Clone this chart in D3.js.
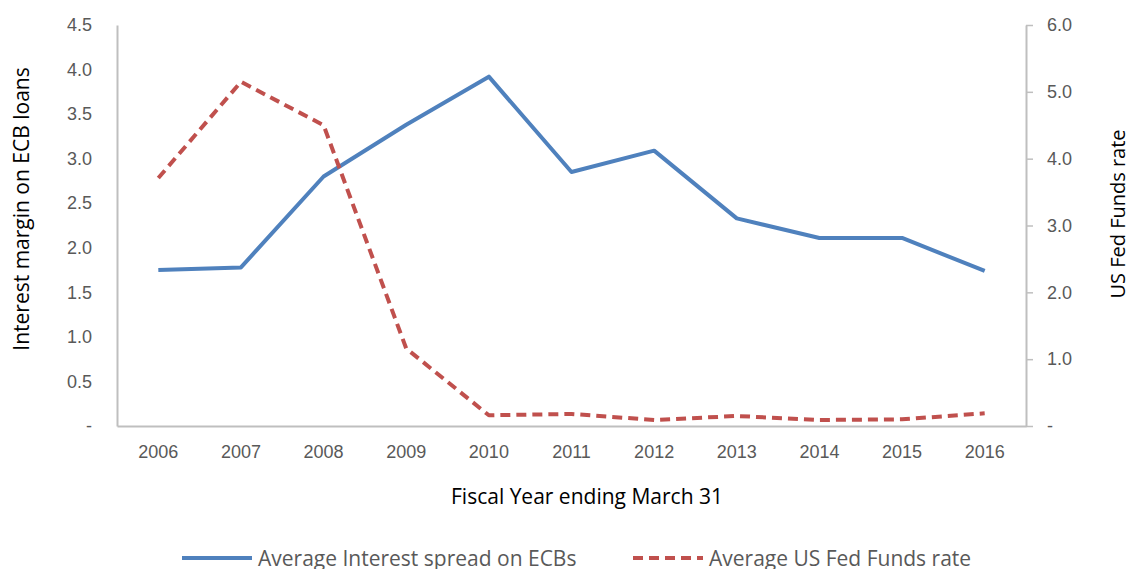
<!DOCTYPE html>
<html>
<head>
<meta charset="utf-8">
<script src="https://cdn.jsdelivr.net/npm/d3@7"></script>
<style>
  body { margin: 0; background: #fff; }
  svg { display: block; font-family: "Open Sans", "Liberation Sans", sans-serif; }
</style>
</head>
<body>
<script>
var years = ["2006", "2007", "2008", "2009", "2010", "2011", "2012", "2013", "2014", "2015", "2016"]
var ecbSpread = [1.75, 1.78, 2.80, 3.38, 3.92, 2.85, 3.09, 2.33, 2.11, 2.11, 1.74]
var fedRate = [3.71, 5.15, 4.50, 1.16, 0.16, 0.18, 0.09, 0.15, 0.09, 0.10, 0.19]
var leftTicks = [0, 0.5, 1.0, 1.5, 2.0, 2.5, 3.0, 3.5, 4.0, 4.5]
var rightTicks = [0, 1, 2, 3, 4, 5, 6]
var seriesNames = ["Average Interest spread on ECBs", "Average US Fed Funds rate"]

var width = 1131, height = 569
var margin = {left: 117, right: 105, top: 25, bottom: 143}

var svg = d3.select("body").append("svg")
    .attr("width", width)
    .attr("height", height)

var x = d3.scaleBand()
    .domain(years)
    .range([margin.left, width - margin.right])

var yLeft = d3.scaleLinear()
    .domain([0, 4.5])
    .range([height - margin.bottom, margin.top])

var yRight = d3.scaleLinear()
    .domain([0, 6])
    .range([height - margin.bottom, margin.top])

function fmt(d) { return d === 0 ? "-" : d3.format(".1f")(d) }

// Left axis
var gl = svg.append("g")
    .attr("transform", "translate(" + margin.left + ",0)")
    .call(d3.axisLeft(yLeft).tickValues(leftTicks).tickFormat(fmt).tickSize(0).tickPadding(25))
gl.select(".domain").attr("stroke", "#bfbfbf").attr("stroke-width", 2)

// Right axis
var gr = svg.append("g")
    .attr("transform", "translate(" + (width - margin.right) + ",0)")
    .call(d3.axisRight(yRight).tickValues(rightTicks).tickFormat(fmt).tickSize(7).tickSizeOuter(0).tickPadding(14))
gr.select(".domain").attr("stroke", "#bfbfbf").attr("stroke-width", 2)
gr.selectAll(".tick line").attr("stroke", "#bfbfbf").attr("stroke-width", 1.5)

// Bottom axis
var gb = svg.append("g")
    .attr("transform", "translate(0," + (height - margin.bottom) + ")")
    .call(d3.axisBottom(x).tickSize(0).tickPadding(19))
gb.select(".domain").attr("stroke", "#bfbfbf").attr("stroke-width", 2)

svg.selectAll(".tick text")
    .attr("fill", "#595959")
    .style("font-size", "18px")

// Axis titles
svg.append("text")
    .attr("transform", "translate(29,209) rotate(-90)")
    .attr("text-anchor", "middle")
    .style("font-size", "21px")
    .text("Interest margin on ECB loans")

svg.append("text")
    .attr("transform", "translate(1125,214) rotate(-90)")
    .attr("text-anchor", "middle")
    .style("font-size", "20px")
    .text("US Fed Funds rate")

svg.append("text")
    .attr("x", 587)
    .attr("y", 504)
    .attr("text-anchor", "middle")
    .style("font-size", "21px")
    .text("Fiscal Year ending March 31")

// Lines
var lineLeft = d3.line()
    .x(function(d, i) { return x(years[i]) + x.bandwidth() / 2 })
    .y(function(d) { return yLeft(d) })

var lineRight = d3.line()
    .x(function(d, i) { return x(years[i]) + x.bandwidth() / 2 })
    .y(function(d) { return yRight(d) })

svg.append("path")
    .attr("d", lineLeft(ecbSpread))
    .attr("fill", "none")
    .attr("stroke", "#4f81bd")
    .attr("stroke-width", 4)
    .attr("stroke-linejoin", "round")

svg.append("path")
    .attr("d", lineRight(fedRate))
    .attr("fill", "none")
    .attr("stroke", "#c0504d")
    .attr("stroke-width", 4)
    .attr("stroke-linejoin", "round")
    .attr("stroke-dasharray", "10,6")

// Legend
var legend = [
    {name: seriesNames[0], color: "#4f81bd", dash: null, x: 182},
    {name: seriesNames[1], color: "#c0504d", dash: "10,6", x: 633}
]
legend.forEach(function(l) {
    svg.append("line")
        .attr("x1", l.x).attr("x2", l.x + 70)
        .attr("y1", 558).attr("y2", 558)
        .attr("stroke", l.color)
        .attr("stroke-width", 4)
        .attr("stroke-dasharray", l.dash)
    svg.append("text")
        .attr("x", l.x + 76)
        .attr("y", 566)
        .attr("fill", "#595959")
        .style("font-size", "21px")
        .text(l.name)
})
</script>
</body>
</html>
